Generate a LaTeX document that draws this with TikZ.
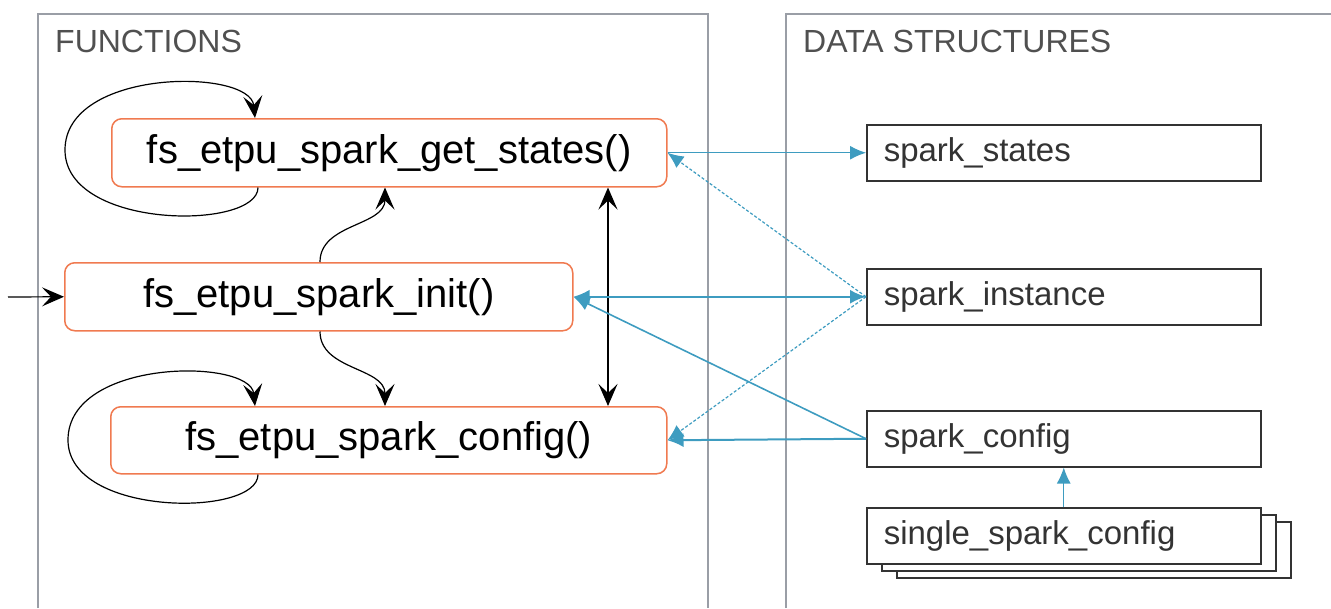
\documentclass[tikz,border=0pt]{standalone}
\usepackage{fontspec}
\setmainfont{Liberation Sans}
\usetikzlibrary{arrows.meta,calc}
\definecolor{panelgray}{HTML}{9A9EA6}
\definecolor{fnorange}{HTML}{F07A50}
\definecolor{linkblue}{HTML}{3E9CC0}
\definecolor{headgray}{HTML}{505050}
\definecolor{dsgray}{HTML}{333333}
\tikzset{
  panel/.style={draw=panelgray, line width=1.5pt},
  headtext/.style={anchor=west, text=headgray, font=\fontsize{32}{36}\selectfont, inner sep=0pt},
  fnbox/.style={draw=fnorange, line width=1.5pt, rounded corners=10pt, fill=white,
    anchor=north west, font=\fontsize{40}{46}\selectfont, inner sep=0pt},
  dsbox/.style={draw=dsgray, line width=1.5pt, fill=white, anchor=north west,
    minimum width=394pt, minimum height=56pt, text width=360pt, align=left,
    inner sep=0pt, text=dsgray, font=\fontsize{33}{38}\selectfont},
  blkhead/.tip={Stealth[length=22pt,width=19pt,inset=9pt]},
  blk/.style={black, line width=1.2pt, -blkhead},
  bluhead/.tip={Latex[length=16pt,width=14pt]},
  blu/.style={linkblue, line width=1.2pt, -bluhead},
  bluthick/.style={blu, line width=2pt},
  bludash/.style={blu, dashed, dash pattern=on 3pt off 2pt},
}
\begin{document}
\begin{tikzpicture}[x=1pt,y=-1pt]
\useasboundingbox (0,0) rectangle (1331,608);
% panels
\draw[panel] (38,608) -- (38,14) -- (708,14) -- (708,608);
\draw[panel] (786,608) -- (786,14) -- (1331,14);
\node[headtext] (hf) at (55,41) {FUNCTIONS};
\node[headtext] (hd) at (803,41) {DATA STRUCTURES};
% function boxes
\node[fnbox, minimum width=555pt, minimum height=68pt] (gs) at (111,118) {fs\_etpu\_spark\_get\_states()};
\node[fnbox, minimum width=508pt, minimum height=68pt] (in) at (64,262) {fs\_etpu\_spark\_init()};
\node[fnbox, minimum width=556pt, minimum height=67pt] (cf) at (110,406) {fs\_etpu\_spark\_config()};
% data boxes
\node[dsbox] (ss) at (866,124) {spark\_states};
\node[dsbox] (si) at (866,268) {spark\_instance};
\node[dsbox] (sc) at (866,410) {spark\_config};
\node[dsbox] (ssc3) at (896,521) {};
\node[dsbox] (ssc2) at (881,514) {};
\node[dsbox] (ssc) at (866,507) {single\_spark\_config};
% entry
\coordinate (entry) at (8,297);
\draw[blk] (entry) -- (in.west);
% self loops
\draw[blk] ($(gs.south west)+(147,0)$) .. controls +(0,43) and (65,230) .. (65,150)
  .. controls (65,68) and (250,68) .. ($(gs.north west)+(144,0)$);
\draw[blk] ($(cf.south west)+(148,0)$) .. controls +(0,43) and (68,517) .. (68,440)
  .. controls (68,358) and (250,358) .. ($(cf.north west)+(145,0)$);
% init to others
\draw[blk] ($(in.north west)+(256,0)$) to[out=90,in=-90] ($(gs.south west)+(274,0)$);
\draw[blk] ($(in.south west)+(256,0)$) to[out=-90,in=90] ($(cf.north west)+(275,0)$);
\draw[blk, blkhead-blkhead] ($(gs.south west)+(497,0)$) -- ($(cf.north west)+(498,0)$);
% blue links
\draw[blu] (gs.east) -- (ss.west);
\draw[bluthick, bluhead-bluhead] (in.east) -- (si.west);
\draw[bludash] (si.west) -- (gs.east);
\draw[bludash] (si.west) -- (cf.east);
\draw[blu, line width=1.6pt] (sc.west) -- (in.east);
\draw[bluthick] (sc.west) -- (cf.east);
\draw[blu] (ssc.north) -- (sc.south);
\end{tikzpicture}
\end{document}
